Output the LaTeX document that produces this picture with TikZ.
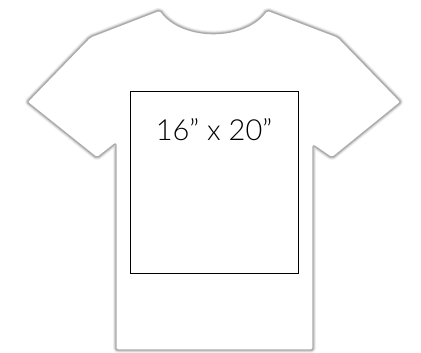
\documentclass[tikz,border=0pt]{standalone}
\usepackage{fontspec}
\newfontfamily\sizefont{Lato Light}
\begin{document}
\begin{tikzpicture}[x=1pt,y=-1pt,
  shirtedge/.style={draw=gray!#1,rounded corners=2pt,line join=round},
  printarea/.style={draw=black,line width=0.9pt,minimum width=168pt,minimum height=182pt,inner sep=0pt}]
\useasboundingbox (0,0) rectangle (421,353);

% shirt outline, soft shadow built up from wide to narrow strokes
\def\shirtpath{(160,10) .. controls (182,41) and (245,41) .. (267,10) -- (338,37) -- (401,102) -- (332,158) -- (313,145) -- (313,350) -- (116,350) -- (116,143) -- (97,158) -- (27,102) -- (90,37) -- cycle}
\draw[shirtedge=10,line width=6pt] \shirtpath;
\draw[shirtedge=24,line width=4.2pt] \shirtpath;
\draw[shirtedge=45,line width=2.6pt] \shirtpath;
\draw[shirtedge=65,line width=1.3pt,fill=white] \shirtpath;

\node[printarea] (area) at (214,182) {};
\node[font=\sizefont\fontsize{29}{29}\selectfont,below=25pt] (size) at (area.north) {16” x 20”};
\end{tikzpicture}
\end{document}
